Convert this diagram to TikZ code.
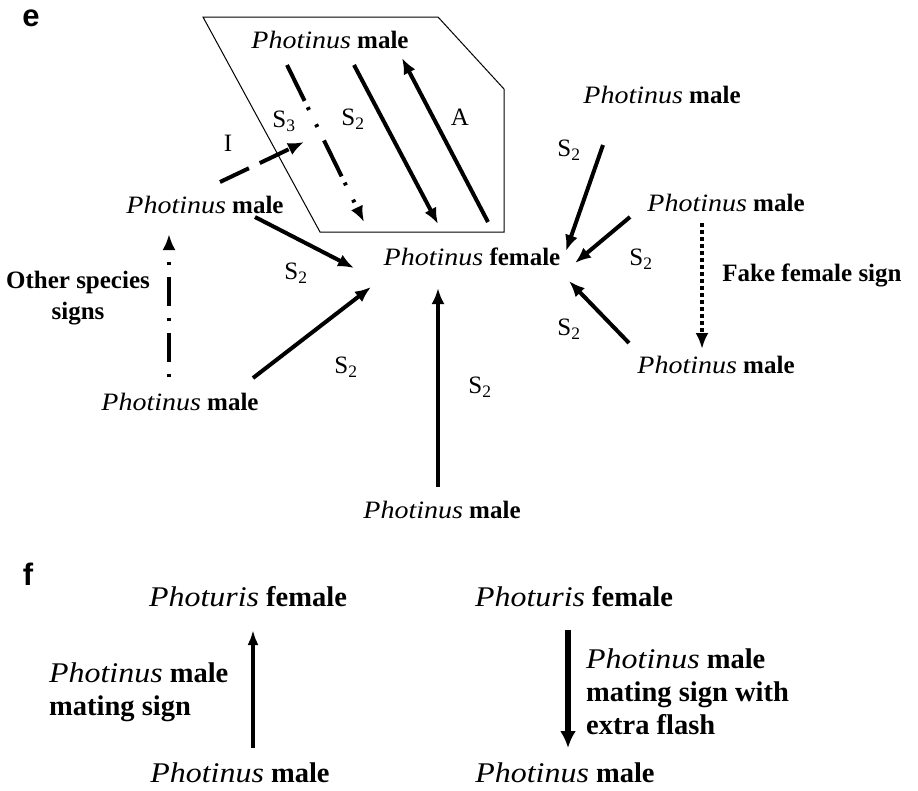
\documentclass[tikz,border=0pt]{standalone}
\usepackage{fontspec}
\setmainfont{Liberation Serif}
\newfontfamily\labfont{Liberation Sans}
\usetikzlibrary{arrows.meta}
\newcommand\itw[1]{\scalebox{1.12}[1]{\textit{#1}}}
\newcommand\Pmale{\itw{Photinus} \textbf{male}}
\begin{document}
\begin{tikzpicture}[x=1pt,y=-1pt,
  txt/.style={font=\fontsize{25}{29}\selectfont, inner sep=0pt},
  ftxt/.style={font=\fontsize{28.5}{33}\selectfont, inner sep=0pt},
  panel/.style={font=\labfont\bfseries\fontsize{31}{34}\selectfont, inner sep=0pt},
  arr/.style={line width=4pt, -{Latex[length=16pt,width=13pt]}},
  boxline/.style={line width=1pt, line join=miter}
]
\useasboundingbox (0,0) rectangle (918,790);

% panel labels
\node[panel, anchor=base] (e) at (31,26) {e};
\node[panel, anchor=base] (f) at (28,585) {f};

% box
\draw[boxline] (203,17) -- (438,17) -- (504,89) -- (504,232) -- (320,232) -- cycle;

% texts panel e
\node[txt] (m1) at (330,40) {\Pmale};
\node[txt] (m2) at (205,205) {\Pmale};
\node[txt] (fem) at (472,257) {\itw{Photinus} \textbf{female}};
\node[txt, align=center, font=\bfseries\fontsize{25}{31}\selectfont] (oth) at (78,298) {Other species\\signs};
\node[txt] (m3) at (180,402) {\Pmale};
\node[txt] (m4) at (442,510) {\Pmale};
\node[txt] (m5) at (662,95) {\Pmale};
\node[txt] (m6) at (726,203) {\Pmale};
\node[txt] (m7) at (716,365) {\Pmale};
\node[txt, font=\bfseries\fontsize{25}{29}\selectfont] (fake) at (812,275) {Fake female sign};

% arrow endpoints
\coordinate (s3a) at (287,65);  \coordinate (s3b) at (364,222);
\coordinate (s2a) at (354,65);  \coordinate (s2b) at (438,224);
\coordinate (aa) at (488,222);  \coordinate (ab) at (402,58);
\coordinate (ia) at (220,182);  \coordinate (ib) at (304,142);
\coordinate (la) at (255,217);  \coordinate (lb) at (354,268);
\coordinate (ba) at (253,378);  \coordinate (bb) at (371,287);
\coordinate (va) at (438,487);  \coordinate (vb) at (438,288);
\coordinate (ra) at (603,145);  \coordinate (rb) at (566,251);
\coordinate (qa) at (630,217);  \coordinate (qb) at (575,263);
\coordinate (pa) at (629,343);  \coordinate (pb) at (569,281);
\coordinate (oa) at (169,377);  \coordinate (ob) at (169,234);
\coordinate (fa) at (702,223);  \coordinate (fb) at (702,349);

\draw[arr, dash pattern=on 40pt off 7pt on 3pt off 16pt on 3pt off 15pt] (s3a) -- (s3b);
\draw[arr] (s2a) -- (s2b);
\draw[arr] (aa) -- (ab);
\draw[arr, dash pattern=on 32pt off 12pt] (ia) -- (ib);
\draw[arr] (la) -- (lb);
\draw[arr] (ba) -- (bb);
\draw[arr] (va) -- (vb);
\draw[arr] (ra) -- (rb);
\draw[arr] (qa) -- (qb);
\draw[arr] (pa) -- (pb);
\draw[arr, dash pattern=on 3pt off 12pt on 29pt off 12pt] (oa) -- (ob);
\draw[arr, dash pattern=on 4pt off 3pt] (fa) -- (fb);

% arrow labels
\node[txt] (l1) at (284,121) {S\textsubscript{3}};
\node[txt] (l2) at (353,119) {S\textsubscript{2}};
\node[txt] (l3) at (460,117) {A};
\node[txt] (l4) at (228,143) {I};
\node[txt] (l5) at (296,273) {S\textsubscript{2}};
\node[txt] (l6) at (346,367) {S\textsubscript{2}};
\node[txt] (l7) at (480,387) {S\textsubscript{2}};
\node[txt] (l8) at (569,150) {S\textsubscript{2}};
\node[txt] (l9) at (641,259) {S\textsubscript{2}};
\node[txt] (l10) at (569,329) {S\textsubscript{2}};

% panel f
\node[ftxt] (pf1) at (248,597) {\itw{Photuris} \textbf{female}};
\node[ftxt] (pf2) at (574,597) {\itw{Photuris} \textbf{female}};
\node[ftxt] (pm1) at (240,773) {\Pmale};
\node[ftxt] (pm2) at (565,773) {\Pmale};
\node[ftxt, anchor=west, align=left] (t1) at (49,692) {\Pmale\\\textbf{mating sign}};
\node[ftxt, anchor=west, align=left] (t2) at (586,692) {\Pmale\\\textbf{mating sign with}\\\textbf{extra flash}};
\coordinate (ua) at (253,748); \coordinate (ub) at (253,630);
\coordinate (da) at (568,630); \coordinate (db) at (568,748);
\draw[line width=4pt, -{Latex[length=15pt,width=11pt]}] (ua) -- (ub);
\draw[line width=6.5pt, -{Latex[length=17pt,width=16pt]}] (da) -- (db);
\end{tikzpicture}
\end{document}
